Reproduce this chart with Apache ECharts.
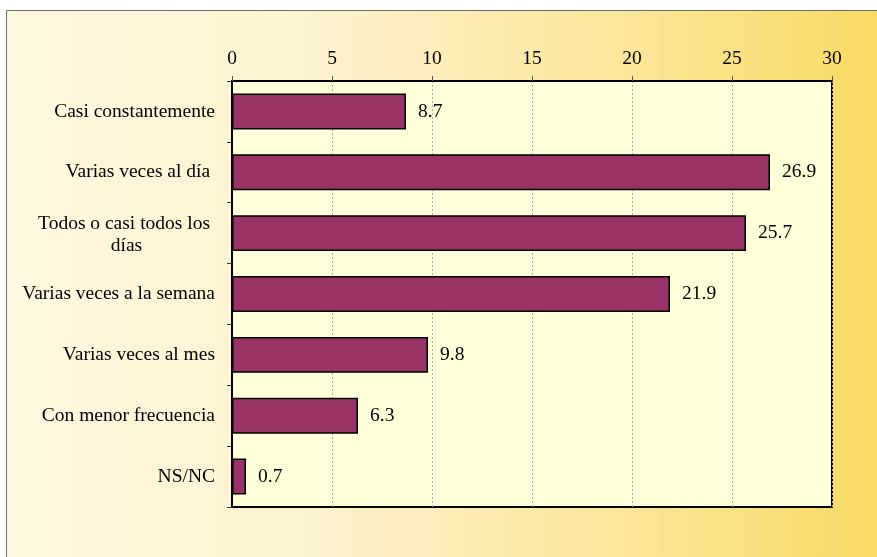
<!DOCTYPE html>
<html lang="es">
<head>
    <meta charset="UTF-8">
    <script src="https://cdn.jsdelivr.net/npm/echarts@6/dist/echarts.min.js"></script>
    <title>Frecuencia</title>
    <style>
        html, body { margin: 0; padding: 0; background: #fff; }
    </style>
</head>
<body>
    <div id="main" style="width:877px;height:557px"></div>
    <script>
        var categorias = ['Casi constantemente', 'Varias veces al día ', 'Todos o casi todos los \ndías',
            'Varias veces a la semana', 'Varias veces al mes', 'Con menor frecuencia', 'NS/NC'];
        var valores = [8.7, 26.9, 25.7, 21.9, 9.8, 6.3, 0.7];
        var ticks = [0, 5, 10, 15, 20, 25, 30];

        var fuente = '"Liberation Serif", "Times New Roman", serif';
        var echart = echarts.init(document.getElementById('main'));
        var option = {
            animation: false,
            graphic: [{
                type: 'rect',
                z: -10,
                silent: true,
                shape: { x: 6.5, y: 10.5, width: 900, height: 600 },
                style: {
                    fill: new echarts.graphic.LinearGradient(0, 0, 1, 0, [
                        { offset: 0, color: '#FEF8E0' },
                        { offset: 0.35, color: '#FDF2CE' },
                        { offset: 0.7, color: '#FBE596' },
                        { offset: 1, color: '#F9D95E' }
                    ]),
                    stroke: '#6e6e6e',
                    lineWidth: 1
                }
            }],
            grid: {
                left: 232, top: 81, right: 45, bottom: 50,
                show: true,
                backgroundColor: '#FFFFDA',
                borderColor: '#000',
                borderWidth: 2
            },
            xAxis: {
                type: 'value',
                position: 'top',
                min: 0, max: 30, interval: 5,
                axisLine: { show: true, lineStyle: { color: '#000', width: 2 } },
                axisTick: { show: true, length: 5, lineStyle: { color: '#555' } },
                axisLabel: {
                    margin: 12,
                    color: '#000',
                    fontFamily: fuente,
                    fontSize: 19.5,
                    formatter: function (v) { return ticks.indexOf(v) >= 0 ? String(v) : ''; }
                },
                splitLine: { show: true, lineStyle: { color: '#aaa', type: [2, 2], width: 1 } }
            },
            yAxis: {
                type: 'category',
                inverse: true,
                data: categorias,
                axisLine: { show: true, lineStyle: { color: '#000', width: 2 } },
                axisTick: { show: true, length: 5, lineStyle: { color: '#333' } },
                axisLabel: {
                    margin: 17,
                    color: '#000',
                    fontFamily: fuente,
                    fontSize: 19.5,
                    lineHeight: 22,
                    formatter: function (v) {
                        return v.indexOf('\n') >= 0 ? '{c|' + v + '}' : v;
                    },
                    rich: {
                        c: {
                            width: 177,
                            align: 'center',
                            color: '#000',
                            fontFamily: fuente,
                            fontSize: 19.5,
                            lineHeight: 22,
                            padding: [4, 0, 0, 0]
                        }
                    }
                }
            },
            series: [{
                type: 'bar',
                data: valores,
                barCategoryGap: '41%',
                itemStyle: { color: '#993366', borderColor: '#000', borderWidth: 1.5 },
                label: {
                    show: true,
                    position: 'right',
                    distance: 12,
                    color: '#000',
                    fontFamily: fuente,
                    fontSize: 19.5,
                    formatter: function (p) { return p.value.toFixed(1); }
                }
            }]
        };
        echart.setOption(option);
    </script>
</body>
</html>
